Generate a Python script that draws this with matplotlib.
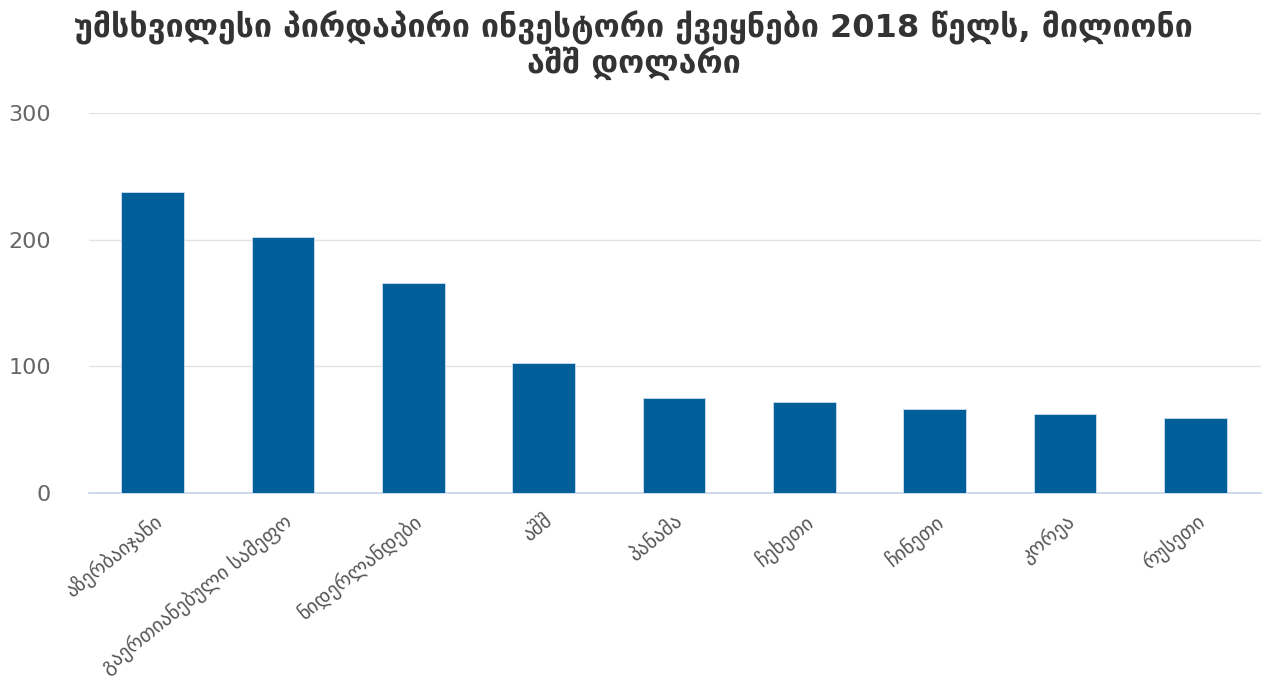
import matplotlib.pyplot as plt

countries = ["აზერბაიჯანი", "გაერთიანებული სამეფო", "ნიდერლანდები", "აშშ",
             "პანამა", "ჩეხეთი", "ჩინეთი", "კორეა", "რუსეთი"]
fdi = [238, 202, 166, 103, 75, 72, 66, 62, 59]
yticks = [0, 100, 200, 300]

fig = plt.figure(figsize=(12.67, 6.88), dpi=100)
ax = fig.add_axes([0.07, 0.2834, 0.925, 0.5524])

ax.bar(range(len(countries)), fdi, width=0.48, color="#005f99",
       edgecolor="#cfe0f0", linewidth=0.6, zorder=3)

ax.set_ylim(0, 300)
ax.set_xlim(-0.49, 8.5)
ax.set_yticks(yticks)
ax.set_yticklabels([str(t) for t in yticks], fontsize=16, color="#666666")
ax.set_xticks(range(len(countries)))
ax.set_xticklabels(countries, rotation=39, ha="right", rotation_mode="anchor",
                   fontsize=14.5, color="#555555")
ax.tick_params(axis="both", length=0)
ax.tick_params(axis="y", pad=27)
ax.tick_params(axis="x", pad=13)

ax.grid(axis="y", color="#e3e3e3", linewidth=1, zorder=0)
for s in ["top", "right", "left"]:
    ax.spines[s].set_visible(False)
ax.spines["bottom"].set_color("#c5d3ea")
ax.spines["bottom"].set_linewidth(1.2)

fig.text(0.5, 0.985, "უმსხვილესი პირდაპირი ინვესტორი ქვეყნები 2018 წელს, მილიონი\nაშშ დოლარი",
         ha="center", va="top", fontsize=23, fontweight="bold", color="#333333",
         linespacing=1.05)

fig.savefig("out.png", dpi=100)
